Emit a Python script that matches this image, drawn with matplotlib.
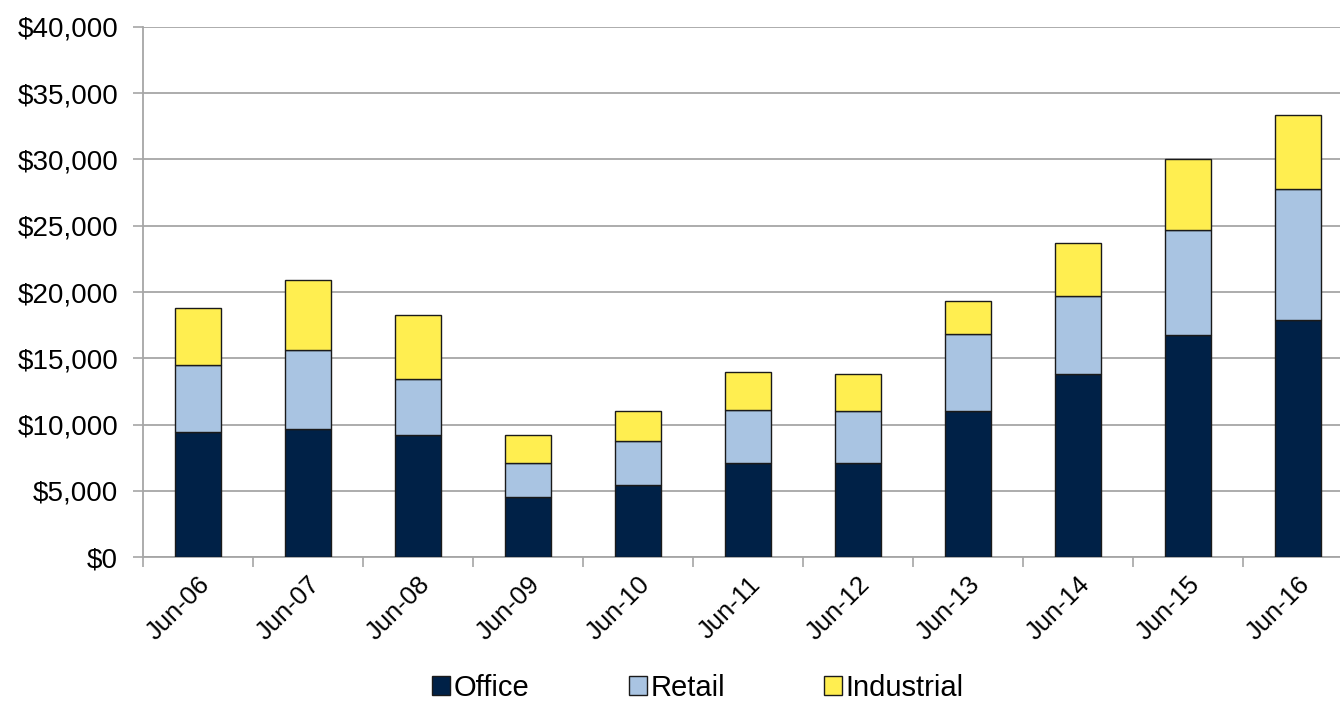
import matplotlib
matplotlib.use("Agg")
import matplotlib.pyplot as plt
import numpy as np
from matplotlib.ticker import FuncFormatter, MultipleLocator

categories = ["Jun-06", "Jun-07", "Jun-08", "Jun-09", "Jun-10", "Jun-11",
              "Jun-12", "Jun-13", "Jun-14", "Jun-15", "Jun-16"]
office = [9430, 9690, 9240, 4530, 5460, 7120, 7100, 11000, 13840, 16780, 17920]
retail = [5040, 5960, 4220, 2570, 3270, 3950, 3900, 5860, 5840, 7930, 9830]
industrial = [4330, 5290, 4780, 2140, 2270, 2880, 2800, 2440, 4050, 5360, 5640]
series_names = ["Office", "Retail", "Industrial"]
colors = ["#002147", "#A9C4E2", "#FFEE50"]

plt.rcParams['font.family'] = ['Liberation Sans', 'DejaVu Sans']

fig = plt.figure(figsize=(13.40, 7.01), dpi=100)
W, H = 1340, 701
left, right, top, bottom = 143, 1353, 27, 557
ax = fig.add_axes([left / W, 1 - bottom / H, (right - left) / W, (bottom - top) / H])

x = np.arange(len(categories))
width = 0.41
bottoms = np.zeros(len(categories))
for vals, name, col in zip([office, retail, industrial], series_names, colors):
    ax.bar(x, vals, width, bottom=bottoms, color=col, edgecolor="#1a1a1a",
           linewidth=1.0, label=name, zorder=3)
    bottoms += np.array(vals)

ax.set_xlim(-0.5, len(categories) - 0.5)
ax.set_ylim(0, 40000)
ax.yaxis.set_major_locator(MultipleLocator(5000))
ax.yaxis.set_major_formatter(FuncFormatter(lambda v, p: "${:,.0f}".format(v)))
ax.grid(axis="y", color="#a6a6a6", linewidth=1.3, zorder=0)

ax.set_xticks(x)
ax.set_xticklabels(categories, rotation=45, ha="right", rotation_mode="anchor",
                   fontsize=18.5)
ax.tick_params(axis="x", length=0, pad=11)
ax.set_xticks(np.arange(-0.5, len(categories) - 0.4, 1), minor=True)
ax.tick_params(axis="x", which="minor", length=7, color="#a6a6a6", width=1.2)
ax.tick_params(axis="y", length=7, color="#a6a6a6", width=1.2, labelsize=20, pad=11)

for s in ["top", "right"]:
    ax.spines[s].set_visible(False)
for s in ["left", "bottom"]:
    ax.spines[s].set_color("#a6a6a6")
    ax.spines[s].set_linewidth(1.3)

leg = fig.legend(loc="center", bbox_to_anchor=(698 / W, 1 - 688 / H), ncol=3,
                 frameon=False, fontsize=21, handlelength=0.62, handleheight=0.62,
                 handletextpad=0.12, columnspacing=3.4, borderpad=0.1)

fig.savefig("out.png", dpi=100)
